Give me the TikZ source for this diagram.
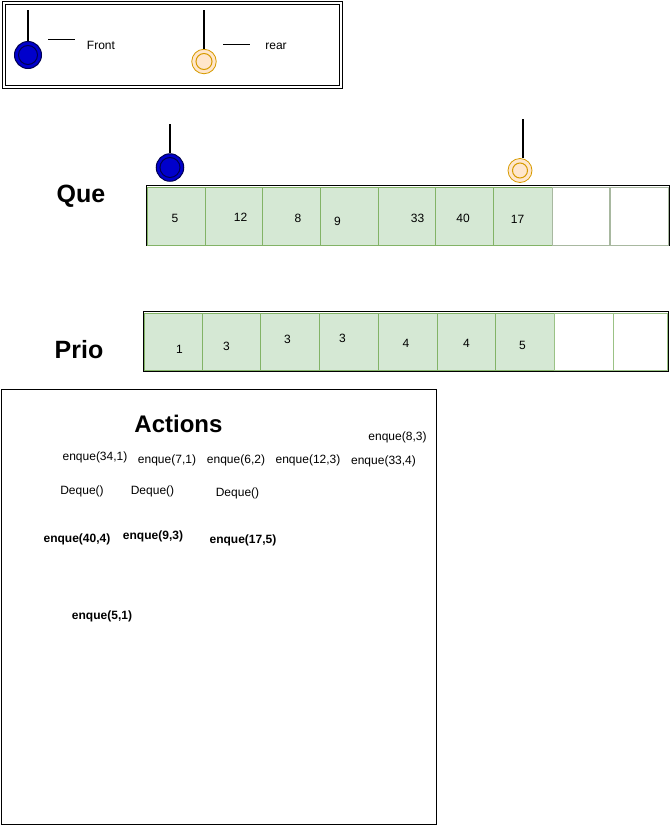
\documentclass[tikz,border=0pt]{standalone}
\usepackage{fontspec}
\setmainfont{Liberation Sans}
\definecolor{cellfill}{HTML}{D5E8D4}
\definecolor{cellline}{HTML}{82B366}
\definecolor{emptyline}{HTML}{A8B8A0}
\definecolor{frontfill}{HTML}{0000CC}
\definecolor{frontline}{HTML}{000050}
\definecolor{rearfill}{HTML}{FFE6CC}
\definecolor{rearline}{HTML}{D79B00}
\begin{document}
\begin{tikzpicture}[x=1pt,y=-1pt,
  txt/.style={inner sep=0pt, font=\fontsize{12}{14}\selectfont},
  btxt/.style={inner sep=0pt, font=\fontsize{12}{14}\selectfont\bfseries},
  title/.style={inner sep=0pt, font=\fontsize{25}{28}\selectfont\bfseries},
  cell/.style={draw=cellline, fill=cellfill, line width=0.8pt, inner sep=0pt, anchor=north west},
  emptycell/.style={draw=emptyline, fill=white, line width=0.8pt, inner sep=0pt, anchor=north west},
  frontptr/.style={circle, draw=frontline, fill=frontfill, line width=1pt, inner sep=0pt},
  rearptr/.style={circle, draw=rearline, fill=rearfill, line width=0.8pt, inner sep=0pt},
  ring/.style={line width=1pt},
  stick/.style={line width=1.8pt, black},
  frame/.style={draw=black, line width=1pt}
]
\useasboundingbox (0,0) rectangle (671,825);

% ---------- legend ----------
\draw[frame] (2.5,1.5) rectangle (342,88);
\draw[frame] (5,4) rectangle (339.5,85.5);
\node[frontptr, minimum size=27] (lf) at (28,55) {};
\draw[frontline, ring] (lf.center) circle[radius=9.5];
\coordinate (lftop) at (28,10);
\draw[stick] (lftop) -- (lf.north);
\coordinate (lfd1) at (48,39.5);
\coordinate (lfd2) at (75,39.5);
\draw[stick] (lfd1) -- (lfd2);
\node[txt] (lfront) at (101,45) {Front};

\node[rearptr, minimum size=24.5] (lr) at (204,61.5) {};
\draw[rearline, ring] (lr.center) circle[radius=8];
\coordinate (lrtop) at (204,10);
\draw[stick] (lrtop) -- (lr.north);
\coordinate (lrd1) at (223,44.5);
\coordinate (lrd2) at (250,44.5);
\draw[stick] (lrd1) -- (lrd2);
\node[txt] (lrear) at (276,46) {rear};

% ---------- Que ----------
\node[title] (quelbl) at (81,196) {Que};
\draw[frame] (146,185) rectangle (669,245);
\foreach \a/\b [count=\i] in {147/204.5,204.5/261.5,261.5/320,320/377.5,377.5/434.5,434.5/493,493/551.5}
  \node[cell, minimum width={\b-\a}, minimum height=58] (q\i) at (\a,186.5) {};
\node[emptycell, minimum width=57.5, minimum height=58] (q8) at (551.5,186.5) {};
\node[emptycell, minimum width=57.5, minimum height=58] (q9) at (610,186.5) {};
\node[txt] (qv1) at (175,218.5) {5};
\node[txt] (qv2) at (240.5,217) {12};
\node[txt] (qv3) at (298,218) {8};
\node[txt] (qv4) at (337.5,221.5) {9};
\node[txt] (qv5) at (417.5,218) {33};
\node[txt] (qv6) at (463,218) {40};
\node[txt] (qv7) at (517.5,219) {17};

\node[frontptr, minimum size=27.5] (qf) at (170,167.5) {};
\draw[frontline, ring] (qf.center) circle[radius=10];
\coordinate (qftop) at (170,124);
\draw[stick] (qftop) -- (qf.north);
\node[rearptr, minimum size=24] (qr) at (520,170.5) {};
\draw[rearline, ring] (qr.center) circle[radius=7.5];
\coordinate (qrtop) at (523,119);
\draw[stick] (qrtop) -- (qrtop |- qr.north);

% ---------- Prio ----------
\node[title] (priolbl) at (79,350) {Prio};
\draw[frame] (143,311) rectangle (668,371);
\foreach \a/\b [count=\i] in {144/202,202/260,260/319,319/378,378/436.5,436.5/495,495/554}
  \node[cell, minimum width={\b-\a}, minimum height=57] (p\i) at (\a,313) {};
\node[emptycell, draw=cellline!80, minimum width=59, minimum height=57] (p8) at (554,313) {};
\node[emptycell, draw=cellline!80, minimum width=54, minimum height=57] (p9) at (613,313) {};
\node[txt] (pv1) at (179.5,349) {1};
\node[txt] (pv2) at (226.5,346.5) {3};
\node[txt] (pv3) at (287.5,339) {3};
\node[txt] (pv4) at (342.5,338) {3};
\node[txt] (pv5) at (406,343) {4};
\node[txt] (pv6) at (466.5,343) {4};
\node[txt] (pv7) at (522.5,345) {5};

% ---------- Actions ----------
\draw[frame] (1,389.5) rectangle (436,824);
\node[inner sep=0pt, font=\fontsize{24}{27}\selectfont\bfseries] (acttitle) at (178.5,424) {Actions};
\node[txt] (a1) at (397.5,437) {enque(8,3)};
\node[txt] (a2) at (95,457) {enque(34,1)};
\node[txt] (a3) at (167,460) {enque(7,1)};
\node[txt] (a4) at (236,460) {enque(6,2)};
\node[txt] (a5) at (308,460) {enque(12,3)};
\node[txt] (a6) at (383.5,461) {enque(33,4)};
\node[txt] (d1) at (82,491) {Deque()};
\node[txt] (d2) at (152.5,491) {Deque()};
\node[txt] (d3) at (237.5,493) {Deque()};
\node[btxt] (b1) at (77,539) {enque(40,4)};
\node[btxt] (b2) at (153,536) {enque(9,3)};
\node[btxt] (b3) at (243,540.5) {enque(17,5)};
\node[btxt] (b4) at (102,616) {enque(5,1)};
\end{tikzpicture}
\end{document}
